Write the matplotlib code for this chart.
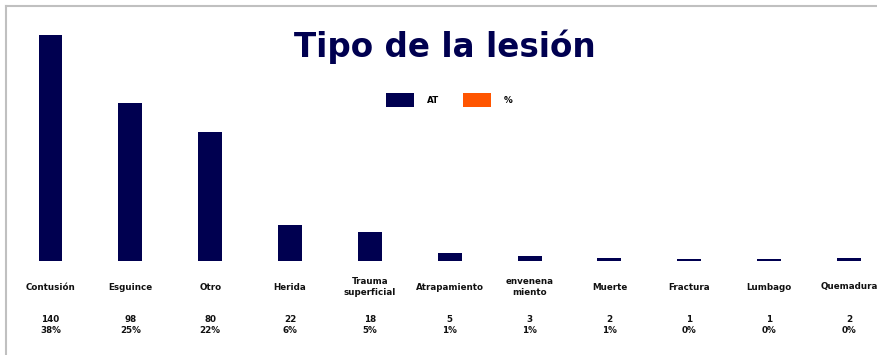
import matplotlib
matplotlib.use("Agg")
import matplotlib.pyplot as plt
import matplotlib.transforms as mtransforms
from matplotlib.patches import Patch
from matplotlib.lines import Line2D

categories = ["Contusión", "Esguince", "Otro", "Herida", "Trauma\nsuperficial",
              "Atrapamiento", "envenena\nmiento", "Muerte", "Fractura",
              "Lumbago", "Quemadura"]
at_values = [140, 98, 80, 22, 18, 5, 3, 2, 1, 1, 2]
pct_labels = ["38%", "25%", "22%", "6%", "5%", "1%", "1%", "1%", "0%", "0%", "0%"]

NAVY = "#000050"
ORANGE = "#FF5500"
FONT = ["DejaVu Sans"]


def main():
    fig = plt.figure(figsize=(8.78, 3.55), dpi=100)
    ax = fig.add_axes([0, (355 - 261) / 355, 1, (261 - 35) / 355])

    x = list(range(len(categories)))
    ax.bar(x, at_values, width=0.30, color=NAVY)

    ax.set_xlim(-50.5 / 79.85, (878 - 50.5) / 79.85)
    ax.set_ylim(0, max(at_values))
    ax.axis("off")

    # category names and the data table under each bar
    trans = mtransforms.blended_transform_factory(ax.transData, fig.transFigure)
    for xi, name, val, pct in zip(x, categories, at_values, pct_labels):
        ax.text(xi, (355 - 287) / 355, name, transform=trans, ha="center",
                va="center", fontsize=6.3, fontweight="bold", family=FONT,
                linespacing=1.15, color="#111111")
        ax.text(xi, (355 - 325) / 355, f"{val}\n{pct}", transform=trans,
                ha="center", va="center", fontsize=6.3, fontweight="bold",
                family=FONT, linespacing=1.15, color="#111111")

    fig.text(445 / 878, (355 - 47) / 355, "Tipo de la lesión", ha="center",
             va="center", fontsize=23.5, fontweight="heavy",
             family=FONT, color=NAVY)

    handles = [Patch(facecolor=NAVY), Patch(facecolor=ORANGE)]
    fig.legend(handles, ["AT", "%"], ncol=2, loc="center",
               bbox_to_anchor=(449 / 878, (355 - 100) / 355), frameon=False,
               prop={"family": FONT, "weight": "bold", "size": 6.3},
               handlelength=3.3, handleheight=2.0, handletextpad=1.4,
               columnspacing=2.7)

    # light frame on the top and left edges
    fig.add_artist(Line2D([6 / 878, 876 / 878], [(355 - 6) / 355] * 2,
                          transform=fig.transFigure, color="#C0C0C0", lw=1.5))
    fig.add_artist(Line2D([6 / 878] * 2, [0, (355 - 6) / 355],
                          transform=fig.transFigure, color="#C0C0C0", lw=1.5))

    fig.savefig("out.png", dpi=100, facecolor="white")
    plt.close(fig)


if __name__ == "__main__":
    main()
